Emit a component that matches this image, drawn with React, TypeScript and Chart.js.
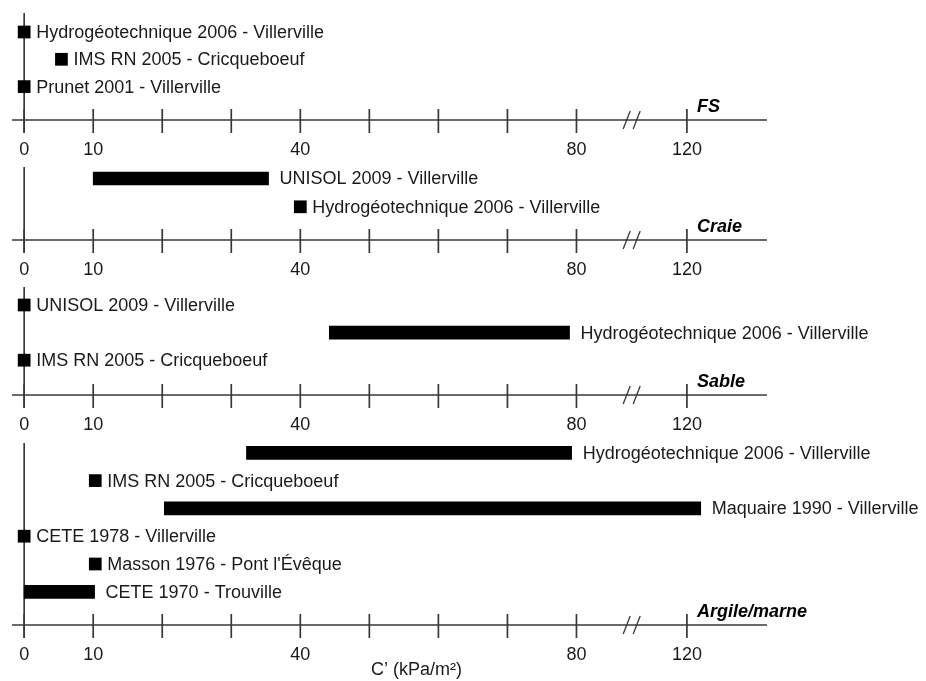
import React, { useEffect, useRef } from 'react';
import { Chart, registerables } from 'chart.js';

Chart.register(...registerables);

// ---- Axis (real values, kPa/m²) ----
const TICK_VALUES = [0, 10, 20, 30, 40, 50, 60, 70, 80, 120];
const TICK_LABELS = ['0', '10', '', '', '40', '', '', '', '80', '120'];
const AXIS_TITLE = 'C\u2019 (kPa/m\u00B2)';
const BREAK_FROM = 88;
const BREAK_TO = 112;
const X_MIN = -1.75;
const X_MAX = 107.6;

// ---- Panel titles ----
const PANEL_TITLES = ['FS', 'Craie', 'Sable', 'Argile/marne'];

// ---- FS ----
const FS_NAMES = [
  'Hydrogéotechnique 2006 - Villerville',
  'IMS RN 2005 - Cricqueboeuf',
  'Prunet 2001 - Villerville',
];
const FS_LOW = [0, 5.4, 0];
const FS_HIGH = [0, 5.4, 0];

// ---- Craie ----
const CRAIE_NAMES = ['UNISOL 2009 - Villerville', 'Hydrogéotechnique 2006 - Villerville'];
const CRAIE_LOW = [10, 40];
const CRAIE_HIGH = [35.4, 40];

// ---- Sable ----
const SABLE_NAMES = [
  'UNISOL 2009 - Villerville',
  'Hydrogéotechnique 2006 - Villerville',
  'IMS RN 2005 - Cricqueboeuf',
];
const SABLE_LOW = [0, 44.2, 0];
const SABLE_HIGH = [0, 79, 0];

// ---- Argile / marne ----
const ARGILE_NAMES = [
  'Hydrogéotechnique 2006 - Villerville',
  'IMS RN 2005 - Cricqueboeuf',
  'Maquaire 1990 - Villerville',
  'CETE 1978 - Villerville',
  "Masson 1976 - Pont l'Évêque",
  'CETE 1970 - Trouville',
];
const ARGILE_LOW = [32.2, 10.3, 20.3, 0, 10.3, 0];
const ARGILE_HIGH = [79.3, 10.3, 122, 0, 10.3, 10.2];

// Broken axis: values past the break are shifted left
const toDisplay = (v: number) =>
  v <= BREAK_FROM ? v : v >= BREAK_TO ? v - (BREAK_TO - BREAK_FROM) : BREAK_FROM;

const FONT = "'Liberation Sans', Arial, Helvetica, sans-serif";
const TEXT = '#1a1a1a';
const LINE = '#383838';

// Layout (pixels) for each panel
const LAYOUT = [
  { lineTop: 13, axisY: 120, firstRow: 32, rowStep: 27.3, axisH: 40 },
  { lineTop: 167, axisY: 240, firstRow: 178.5, rowStep: 28.3, axisH: 40 },
  { lineTop: 287, axisY: 395, firstRow: 305, rowStep: 27.6, axisH: 40 },
  { lineTop: 443, axisY: 625, firstRow: 452.8, rowStep: 27.8, axisH: 56 },
];
const PAD_TOP = 10;

const PANEL_DATA = [
  { names: FS_NAMES, low: FS_LOW, high: FS_HIGH },
  { names: CRAIE_NAMES, low: CRAIE_LOW, high: CRAIE_HIGH },
  { names: SABLE_NAMES, low: SABLE_LOW, high: SABLE_HIGH },
  { names: ARGILE_NAMES, low: ARGILE_LOW, high: ARGILE_HIGH },
];

function Panel({ idx }: { idx: number }) {
  const ref = useRef<HTMLCanvasElement | null>(null);
  const lay = LAYOUT[idx];
  const data = PANEL_DATA[idx];
  const height = PAD_TOP + (lay.axisY - lay.lineTop) + lay.axisH;
  const canvasTop = lay.lineTop - PAD_TOP;

  useEffect(() => {
    if (!ref.current) return;
    const yMin = -(lay.firstRow - lay.lineTop) / lay.rowStep;
    const yMax = yMin + (lay.axisY - lay.lineTop) / lay.rowStep;
    const isLast = idx === LAYOUT.length - 1;

    const barData: any[] = [];
    const pointData: any[] = [];
    data.names.forEach((_, i) => {
      if (data.high[i] > data.low[i]) {
        barData.push({ x: [toDisplay(data.low[i]), toDisplay(data.high[i])], y: i });
      } else {
        pointData.push({ x: toDisplay(data.low[i]), y: i });
      }
    });

    const decor = {
      id: 'decor' + idx,
      beforeDatasetsDraw(chart: any) {
        const { ctx, chartArea } = chart;
        const xs = chart.scales.x;
        const ay = chartArea.bottom;
        ctx.save();
        ctx.strokeStyle = LINE;
        ctx.lineWidth = 1.7;
        // axis line
        ctx.beginPath();
        ctx.moveTo(chartArea.left, ay);
        ctx.lineTo(chartArea.right, ay);
        ctx.stroke();
        // vertical line at zero
        const x0 = xs.getPixelForValue(toDisplay(0));
        ctx.beginPath();
        ctx.moveTo(x0, chartArea.top);
        ctx.lineTo(x0, ay + 13);
        ctx.stroke();
        // tick marks crossing the axis
        xs.ticks.forEach((t: any) => {
          const px = xs.getPixelForValue(t.value);
          ctx.beginPath();
          ctx.moveTo(px, ay - 11);
          ctx.lineTo(px, ay + 13);
          ctx.stroke();
        });
        // break symbol
        const xb = xs.getPixelForValue(BREAK_FROM);
        ctx.lineWidth = 1.3;
        [-5, 5].forEach((dx) => {
          ctx.beginPath();
          ctx.moveTo(xb + dx - 3.5, ay + 9);
          ctx.lineTo(xb + dx + 3.5, ay - 9);
          ctx.stroke();
        });
        ctx.restore();
      },
      afterDatasetsDraw(chart: any) {
        const { ctx, chartArea } = chart;
        const xs = chart.scales.x;
        const ys = chart.scales.y;
        const ay = chartArea.bottom;
        ctx.save();
        // bar labels
        ctx.fillStyle = TEXT;
        ctx.font = `18px ${FONT}`;
        ctx.textAlign = 'left';
        ctx.textBaseline = 'middle';
        data.names.forEach((name, i) => {
          const isPoint = !(data.high[i] > data.low[i]);
          const xe = xs.getPixelForValue(toDisplay(data.high[i]));
          const tx = xe + (isPoint ? 12 : 11);
          const ty = ys.getPixelForValue(i) + 1;
          ctx.fillText(name, tx, ty);
        });
        // panel title
        const x120 = xs.getPixelForValue(toDisplay(TICK_VALUES[TICK_VALUES.length - 1]));
        ctx.fillStyle = '#000';
        ctx.font = `italic bold 18px ${FONT}`;
        ctx.textBaseline = 'alphabetic';
        ctx.fillText(PANEL_TITLES[idx], x120 + 10, ay - 8);
        // axis title
        if (isLast) {
          ctx.fillStyle = TEXT;
          ctx.font = `18px ${FONT}`;
          ctx.textAlign = 'center';
          ctx.textBaseline = 'middle';
          ctx.fillText(AXIS_TITLE, (chartArea.left + chartArea.right) / 2 + 27, ay + 45);
        }
        ctx.restore();
      },
    };

    const chart = new Chart(ref.current, {
      type: 'bar',
      data: {
        datasets: [
          {
            type: 'bar',
            data: barData,
            backgroundColor: '#000',
            borderWidth: 0,
            barThickness: 13,
          } as any,
          {
            type: 'scatter',
            data: pointData,
            pointStyle: 'rect',
            pointRadius: 9,
            pointBorderWidth: 0,
            backgroundColor: '#000',
            borderColor: '#000',
          } as any,
        ],
      },
      options: {
        indexAxis: 'y',
        animation: false,
        responsive: false,
        events: [],
        layout: { padding: { top: PAD_TOP, left: 10, right: 926 - 767, bottom: 0 } },
        plugins: { legend: { display: false }, tooltip: { enabled: false }, title: { display: false } },
        scales: {
          x: {
            type: 'linear',
            min: X_MIN,
            max: X_MAX,
            bounds: 'data',
            offset: false,
            grid: { display: false, drawTicks: false },
            border: { display: false },
            ticks: {
              autoSkip: false,
              maxRotation: 0,
              padding: 19,
              color: TEXT,
              font: { family: FONT, size: 18 },
              callback: (_v: any, i: number) => TICK_LABELS[i] ?? '',
            },
            afterBuildTicks: (s: any) => {
              s.ticks = TICK_VALUES.map((v) => ({ value: toDisplay(v) }));
            },
            afterFit: (s: any) => {
              s.height = lay.axisH;
            },
          },
          y: {
            type: 'linear',
            display: false,
            reverse: true,
            min: yMin,
            max: yMax,
            offset: false,
          },
        },
      } as any,
      plugins: [decor],
    });
    return () => chart.destroy();
  }, []);

  return (
    <canvas
      ref={ref}
      width={926}
      height={height}
      style={{ position: 'absolute', left: 0, top: canvasTop, width: 926, height }}
    />
  );
}

export default function App() {
  return (
    <div style={{ position: 'absolute', left: 0, top: 0, width: 926, height: 681, background: '#fff' }}>
      {LAYOUT.map((_, i) => (
        <Panel key={i} idx={i} />
      ))}
    </div>
  );
}
